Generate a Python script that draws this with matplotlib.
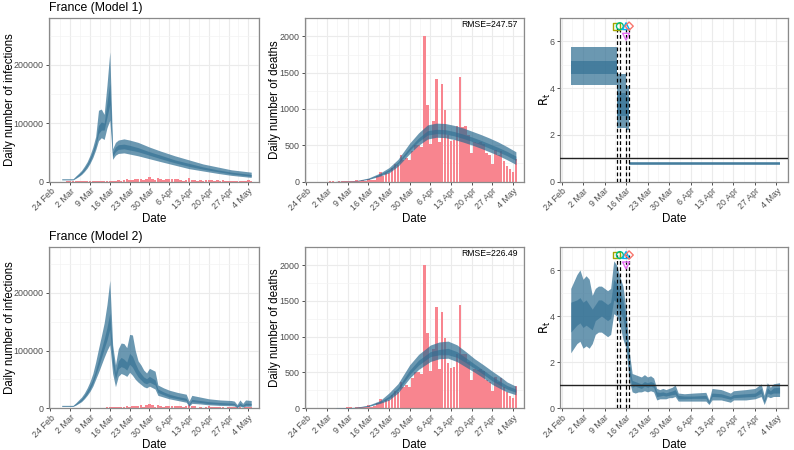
import numpy as np
import pandas as pd
import matplotlib
matplotlib.use("Agg")
import matplotlib.pyplot as plt
import matplotlib.dates as mdates

plt.rcParams['font.family'] = ['Liberation Sans', 'DejaVu Sans']

# ---------------- data ----------------
obs_start = "2020-03-01"
deaths = [0, 0, 1, 1, 0, 2, 3, 2, 9, 11, 3, 15, 13, 18, 12, 36, 21, 27, 69, 128, 78, 112, 112,
          186, 240, 231, 365, 299, 319, 292, 418,
          499, 509, 471, 2004, 1053, 518, 833, 1417, 541, 1341, 987, 635, 561, 574, 762, 1438,
          753, 761, 642, 395, 547, 531, 544, 516, 389, 369, 242, 437, 367, 427,
          289, 218, 166, 135, 306]
cases = [30, 61, 21, 73, 138, 190, 336, 177, 286, 372, 497, 595, 785, 838, 924, 1210, 1097,
         1404, 1861, 1617, 1847, 3838, 2446, 2931, 3922, 3809, 4611, 2599, 4376, 7578, 4861,
         2116, 5233, 4286, 1873, 3912, 3777, 3881, 4286, 4342, 3114, 1613, 2673, 5497, 2633,
         2641, 405, 2569, 785, 2051, 2667, 1827, 1653, 1773, 1537, 1842, 512, 1592, 1525, 1049,
         1057, 1210, 570, 1147, 2057, 1500]

# Model 1 infections (thousands)
inf1_dates = ["2020-02-28", "2020-03-03", "2020-03-04", "2020-03-05", "2020-03-06", "2020-03-07",
              "2020-03-08", "2020-03-09", "2020-03-10", "2020-03-11", "2020-03-12", "2020-03-13",
              "2020-03-14", "2020-03-15", "2020-03-16", "2020-03-17", "2020-03-18", "2020-03-19",
              "2020-03-21", "2020-03-23", "2020-03-26", "2020-03-30", "2020-04-03", "2020-04-08",
              "2020-04-13", "2020-04-18", "2020-04-23", "2020-04-28", "2020-05-05"]
inf1_lo95 = [2.8, 2.8, 5.5, 8.5, 12, 17, 23, 31, 41, 54, 70, 75, 72, 92, 105, 38, 45, 48, 49, 47, 44, 39, 34, 28, 22, 18, 14, 10.5, 7]
inf1_lo50 = [3.3, 3.3, 6.5, 10, 14, 19.5, 26.5, 35, 46, 60, 82, 88, 88, 110, 132, 43, 51, 55, 56, 54, 51, 45, 39, 32, 26, 21, 17, 13, 9]
inf1_hi50 = [3.9, 3.9, 7.8, 12, 16.5, 22.5, 30, 40, 52, 68, 96, 102, 100, 135, 168, 50, 59, 63, 64, 62, 58, 51, 45, 37, 31, 25, 20, 16, 12]
inf1_hi95 = [4.6, 4.6, 9.5, 14, 19, 26, 34, 45, 59, 77, 122, 124, 115, 165, 222, 56, 67, 71, 73, 71, 67, 59, 52, 44, 37, 30, 25, 20, 16]

# Model 2 infections (thousands)
inf2_dates = ["2020-02-28", "2020-03-03", "2020-03-04", "2020-03-05", "2020-03-06", "2020-03-07",
              "2020-03-08", "2020-03-09", "2020-03-10", "2020-03-11", "2020-03-12", "2020-03-13",
              "2020-03-14", "2020-03-15", "2020-03-16", "2020-03-17", "2020-03-18", "2020-03-19",
              "2020-03-20", "2020-03-21", "2020-03-22", "2020-03-23", "2020-03-24", "2020-03-25",
              "2020-03-26", "2020-03-27", "2020-03-28", "2020-03-29", "2020-03-30", "2020-04-01",
              "2020-04-02", "2020-04-04", "2020-04-06", "2020-04-09", "2020-04-12", "2020-04-13",
              "2020-04-14", "2020-04-17", "2020-04-20", "2020-04-24", "2020-04-28", "2020-04-29",
              "2020-04-30", "2020-05-01", "2020-05-02", "2020-05-03", "2020-05-05"]
inf2_lo95 = [2.8, 2.8, 5, 8, 11, 16, 22, 29, 38, 50, 62, 75, 88, 100, 110, 60, 37, 55, 60, 58, 55, 62, 57, 50, 45, 41, 37, 35, 38, 33, 22, 19, 16, 13, 10, 3, 8, 7, 5.5, 4.5, 4, 3.5, 1, 3, 1.5, 3, 3]
inf2_lo50 = [3.3, 3.3, 6, 9.5, 13, 18.5, 25, 33, 43, 57, 72, 87, 103, 118, 137, 75, 50, 68, 72, 70, 66, 76, 71, 62, 54, 49, 44, 42, 45, 40, 27, 23, 19, 16, 13, 5, 11, 9.5, 7.5, 6.5, 6, 5.5, 2, 5, 3, 5, 5]
inf2_hi50 = [3.9, 3.9, 7.5, 11.5, 16, 22, 30, 39, 50, 66, 84, 102, 120, 140, 165, 95, 62, 82, 88, 85, 80, 95, 90, 78, 67, 60, 54, 51, 55, 49, 33, 28, 24, 20, 17, 7, 15, 13, 11, 9.5, 8.5, 8, 3.5, 8.5, 5, 8.5, 8]
inf2_hi95 = [4.6, 4.6, 9, 14, 19, 26, 35, 46, 60, 80, 103, 125, 148, 180, 222, 110, 75, 103, 113, 112, 105, 128, 127, 100, 82, 75, 66, 61, 69, 64, 40, 35, 31, 27, 24, 12, 22, 19, 16, 14, 13, 12, 6, 14, 8, 14, 13]

# Model 1 deaths
dth1_dates = ["2020-03-05", "2020-03-09", "2020-03-12", "2020-03-16", "2020-03-20", "2020-03-23",
              "2020-03-26", "2020-03-30", "2020-04-02", "2020-04-05", "2020-04-08", "2020-04-11",
              "2020-04-14", "2020-04-17", "2020-04-20", "2020-04-23", "2020-04-26", "2020-04-29",
              "2020-05-02", "2020-05-05"]
dth1_lo95 = [0, 2, 7, 28, 75, 120, 210, 385, 500, 585, 610, 605, 580, 545, 505, 460, 410, 360, 300, 235]
dth1_lo50 = [0, 3, 9, 33, 88, 140, 240, 430, 550, 640, 660, 655, 630, 595, 555, 510, 460, 410, 355, 290]
dth1_hi50 = [1, 4, 11, 40, 102, 165, 270, 470, 600, 700, 720, 715, 690, 655, 615, 570, 520, 470, 415, 350]
dth1_hi95 = [2, 6, 14, 48, 118, 192, 305, 530, 670, 780, 805, 800, 775, 740, 695, 650, 600, 545, 480, 410]

# Model 2 deaths
dth2_dates = ["2020-03-05", "2020-03-09", "2020-03-12", "2020-03-16", "2020-03-20", "2020-03-23",
              "2020-03-26", "2020-03-30", "2020-04-02", "2020-04-06", "2020-04-09", "2020-04-12",
              "2020-04-15", "2020-04-18", "2020-04-21", "2020-04-24", "2020-04-27", "2020-04-30",
              "2020-05-02", "2020-05-05"]
dth2_lo95 = [0, 1, 5, 22, 65, 111, 210, 420, 540, 651, 690, 697, 650, 575, 500, 420, 330, 265, 225, 185]
dth2_lo50 = [0, 2, 7, 27, 77, 135, 245, 470, 600, 720, 745, 745, 710, 635, 555, 470, 380, 310, 265, 220]
dth2_hi50 = [1, 3, 9, 33, 90, 165, 285, 530, 670, 790, 820, 836, 790, 705, 615, 530, 440, 365, 315, 265]
dth2_hi95 = [2, 5, 12, 40, 105, 212, 340, 605, 750, 882, 925, 937, 885, 790, 690, 605, 515, 430, 365, 305]

# Model 1 Rt (piecewise constant)
rt1_dates = ["2020-02-27", "2020-03-13", "2020-03-16", "2020-03-17", "2020-05-05"]
rt1_lo95 = [4.15, 2.3, 2.2, 0.72, 0.72]
rt1_lo50 = [4.6, 2.8, 2.7, 0.75, 0.75]
rt1_hi50 = [5.15, 3.8, 3.6, 0.79, 0.79]
rt1_hi95 = [5.75, 4.6, 4.1, 0.82, 0.82]

# Model 2 Rt
rt2_dates = ["2020-02-27", "2020-02-29", "2020-03-01", "2020-03-02", "2020-03-03", "2020-03-04",
             "2020-03-05", "2020-03-06", "2020-03-07", "2020-03-08", "2020-03-09", "2020-03-10",
             "2020-03-11", "2020-03-12", "2020-03-13", "2020-03-14", "2020-03-15", "2020-03-16",
             "2020-03-17", "2020-03-18", "2020-03-19", "2020-03-20", "2020-03-21", "2020-03-22",
             "2020-03-23", "2020-03-24", "2020-03-25", "2020-03-26", "2020-03-27", "2020-03-28",
             "2020-03-29", "2020-03-30", "2020-03-31", "2020-04-01", "2020-04-02", "2020-04-04",
             "2020-04-07", "2020-04-11", "2020-04-12", "2020-04-13", "2020-04-16", "2020-04-19",
             "2020-04-20", "2020-04-24", "2020-04-27", "2020-04-29", "2020-04-30", "2020-05-01",
             "2020-05-02", "2020-05-03", "2020-05-05"]
rt2_lo95 = [2.4, 2.8, 2.9, 2.6, 2.7, 2.6, 2.8, 3.2, 3.3, 3.3, 3.2, 3.1, 3.2, 4.1, 4.0, 3.6, 3.0, 2.6,
            1.2, 0.7, 0.65, 0.7, 0.7, 0.75, 0.7, 0.75, 0.7, 0.35, 0.4, 0.4, 0.4, 0.45, 0.45, 0.5,
            0.3, 0.3, 0.3, 0.3, 0.15, 0.35, 0.35, 0.25, 0.35, 0.35, 0.4, 0.5, 0.15, 0.5, 0.45, 0.5, 0.5]
rt2_lo50 = [3.3, 3.6, 3.7, 3.5, 3.6, 3.5, 3.4, 3.8, 3.9, 4.0, 3.9, 3.8, 3.9, 4.7, 4.6, 4.2, 3.9, 3.1,
            1.5, 0.9, 0.95, 0.9, 0.85, 0.95, 0.9, 0.95, 0.9, 0.5, 0.52, 0.55, 0.52, 0.55, 0.58, 0.6,
            0.4, 0.4, 0.42, 0.42, 0.2, 0.5, 0.48, 0.38, 0.45, 0.48, 0.5, 0.65, 0.25, 0.65, 0.6, 0.65, 0.65]
rt2_hi50 = [4.6, 4.7, 4.8, 4.6, 4.7, 4.5, 4.3, 4.5, 4.7, 4.7, 4.6, 4.5, 4.6, 5.6, 5.4, 5.1, 4.7, 3.8,
            1.9, 1.2, 1.15, 1.1, 1.05, 1.15, 1.1, 1.15, 1.1, 0.7, 0.68, 0.7, 0.66, 0.7, 0.74, 0.8,
            0.55, 0.52, 0.52, 0.55, 0.28, 0.65, 0.62, 0.5, 0.58, 0.62, 0.65, 0.85, 0.35, 0.88, 0.75, 0.88, 0.9]
rt2_hi95 = [5.2, 5.8, 6.0, 5.6, 5.75, 5.6, 4.9, 5.2, 5.3, 5.3, 5.2, 5.1, 5.2, 6.4, 6.2, 5.7, 5.3, 4.3,
            2.5, 1.5, 1.45, 1.4, 1.35, 1.45, 1.35, 1.4, 1.3, 0.85, 0.8, 0.85, 0.8, 0.85, 0.9, 1.0,
            0.65, 0.62, 0.65, 0.68, 0.35, 0.85, 0.8, 0.65, 0.75, 0.8, 0.85, 1.05, 0.55, 1.1, 0.9, 1.05, 1.1]

# Interventions
iv_dates = ["2020-03-13", "2020-03-14", "2020-03-16", "2020-03-17", "2020-03-16"]
iv_markers = ["s", "o", "^", "D", "v"]
iv_colors = ["#A3A500", "#00BF7D", "#00B0F6", "#F8766D", "#E76BF3"]
iv_levels = [6.65, 6.65, 6.65, 6.65, 6.2]
vline_dates = ["2020-03-13", "2020-03-14", "2020-03-16", "2020-03-17"]

rmse = ["RMSE=247.57", "RMSE=226.49"]
titles = ["France (Model 1)", "France (Model 2)"]
tick_dates = pd.date_range("2020-02-24", "2020-05-04", freq="7D")

# ---------------- style ----------------
BAND = "#2D6C91"
BAR = "#F8858F"
GRID = "#EBEBEB"
TXT = "#4D4D4D"
xlim = (mdates.date2num(pd.Timestamp("2020-02-23 12:00")), mdates.date2num(pd.Timestamp("2020-05-07 18:00")))

W, H = 794, 450
rows = [(18, 181.5), (247, 408)]
cols = [(49, 259), (305, 524), (560, 788)]
ylab_x = [10, 275, 545]
date_off = 37


def d2n(lst):
    return mdates.date2num(pd.to_datetime(lst))


def style(ax, yticks, yminor, ylim, ylabel, c, r):
    ax.set_xlim(*xlim)
    ax.set_ylim(*ylim)
    ax.set_xticks(mdates.date2num(tick_dates))
    ax.set_xticklabels([f"{d.day} {d.strftime('%b')}" for d in tick_dates],
                       rotation=45, ha="right", va="top", rotation_mode="anchor",
                       fontsize=6.4, color=TXT)
    mids = mdates.date2num(tick_dates) + 3.5
    ax.set_xticks(mids, minor=True)
    ax.set_yticks(yticks)
    ax.set_yticklabels([str(v) for v in yticks], fontsize=6.4, color=TXT)
    ax.set_yticks(yminor, minor=True)
    ax.tick_params(which="major", length=2.5, width=0.6, color="#333333", pad=1.5)
    ax.tick_params(axis="x", which="major", pad=1.0)
    ax.tick_params(which="minor", length=0)
    ax.grid(True, which="major", color=GRID, lw=0.8)
    ax.grid(True, which="minor", color="#F3F3F3", lw=0.5)
    ax.set_axisbelow(True)
    for s in ax.spines.values():
        s.set_color("#8A8A8A")
        s.set_linewidth(0.9)
    top, bot = rows[r]
    l, rr = cols[c]
    ax.set_xlabel("Date", fontsize=8.3)
    ax.xaxis.set_label_coords(0.5, -date_off / (bot - top))
    ax.set_ylabel(ylabel, fontsize=8.3)
    ax.yaxis.set_label_coords((ylab_x[c] - l) / (rr - l), 0.5)
    ax.yaxis.label.set_va("center")
    ax.xaxis.label.set_va("center")


fig = plt.figure(figsize=(7.94, 4.5), dpi=100)

obs_x = d2n(pd.date_range(obs_start, periods=len(deaths), freq="D"))
case_x = d2n(pd.date_range(obs_start, periods=len(cases), freq="D"))

inf_sets = [(inf1_dates, inf1_lo95, inf1_lo50, inf1_hi50, inf1_hi95),
            (inf2_dates, inf2_lo95, inf2_lo50, inf2_hi50, inf2_hi95)]
dth_sets = [(dth1_dates, dth1_lo95, dth1_lo50, dth1_hi50, dth1_hi95),
            (dth2_dates, dth2_lo95, dth2_lo50, dth2_hi50, dth2_hi95)]
rt_sets = [(rt1_dates, rt1_lo95, rt1_lo50, rt1_hi50, rt1_hi95, "post"),
           (rt2_dates, rt2_lo95, rt2_lo50, rt2_hi50, rt2_hi95, None)]

for r, (top, bot) in enumerate(rows):
    axes = []
    for (l, rr) in cols:
        axes.append(fig.add_axes([l / W, 1 - bot / H, (rr - l) / W, (bot - top) / H]))
    a1, a2, a3 = axes

    # infections
    dts, lo95, lo50, hi50, hi95 = inf_sets[r]
    x = d2n(dts)
    a1.bar(case_x, cases, width=0.9, color=BAR, lw=0, zorder=2)
    a1.fill_between(x, np.array(lo95) * 1000, np.array(hi95) * 1000, color=BAND, alpha=0.7, lw=0, zorder=3)
    a1.fill_between(x, np.array(lo50) * 1000, np.array(hi50) * 1000, color=BAND, alpha=0.6, lw=0, zorder=4)
    style(a1, [0, 100000, 200000], [50000, 150000, 250000], (0, 280000), "Daily number of infections", 0, r)

    # deaths
    dts, lo95, lo50, hi50, hi95 = dth_sets[r]
    x = d2n(dts)
    a2.bar(obs_x, deaths, width=0.9, color=BAR, lw=0, zorder=2)
    a2.fill_between(x, lo95, hi95, color=BAND, alpha=0.7, lw=0, zorder=3)
    a2.fill_between(x, lo50, hi50, color=BAND, alpha=0.6, lw=0, zorder=4)
    style(a2, [0, 500, 1000, 1500, 2000], [250, 750, 1250, 1750, 2250], (0, 2255), "Daily number of deaths", 1, r)
    a2.text(0.97, 0.985, rmse[r], transform=a2.transAxes, ha="right", va="top", fontsize=6.2)

    # Rt
    dts, lo95, lo50, hi50, hi95, step = rt_sets[r]
    x = d2n(dts)
    a3.fill_between(x, lo95, hi95, color=BAND, alpha=0.7, lw=0, step=step, zorder=3)
    a3.fill_between(x, lo50, hi50, color=BAND, alpha=0.6, lw=0, step=step, zorder=4)
    a3.axhline(1, color="#222222", lw=1.0, zorder=5)
    for vd in d2n(vline_dates):
        a3.plot([vd, vd], [0, 6.65], color="black", lw=0.9, ls=(0, (3, 2)), zorder=6)
    for xd, mk, c, lv in zip(d2n(iv_dates), iv_markers, iv_colors, iv_levels):
        a3.scatter([xd], [lv], marker=mk, s=24 if mk != "D" else 18, facecolors="none",
                   edgecolors=c, linewidths=1.0, zorder=7)
    style(a3, [0, 2, 4, 6], [1, 3, 5, 7], (0, 7.0), r"$\mathrm{R_t}$", 2, r)

    fig.text(49 / W, 1 - (top - 10) / H, titles[r], fontsize=8.8, ha="left", va="center")

fig.savefig("out.png", dpi=100)
